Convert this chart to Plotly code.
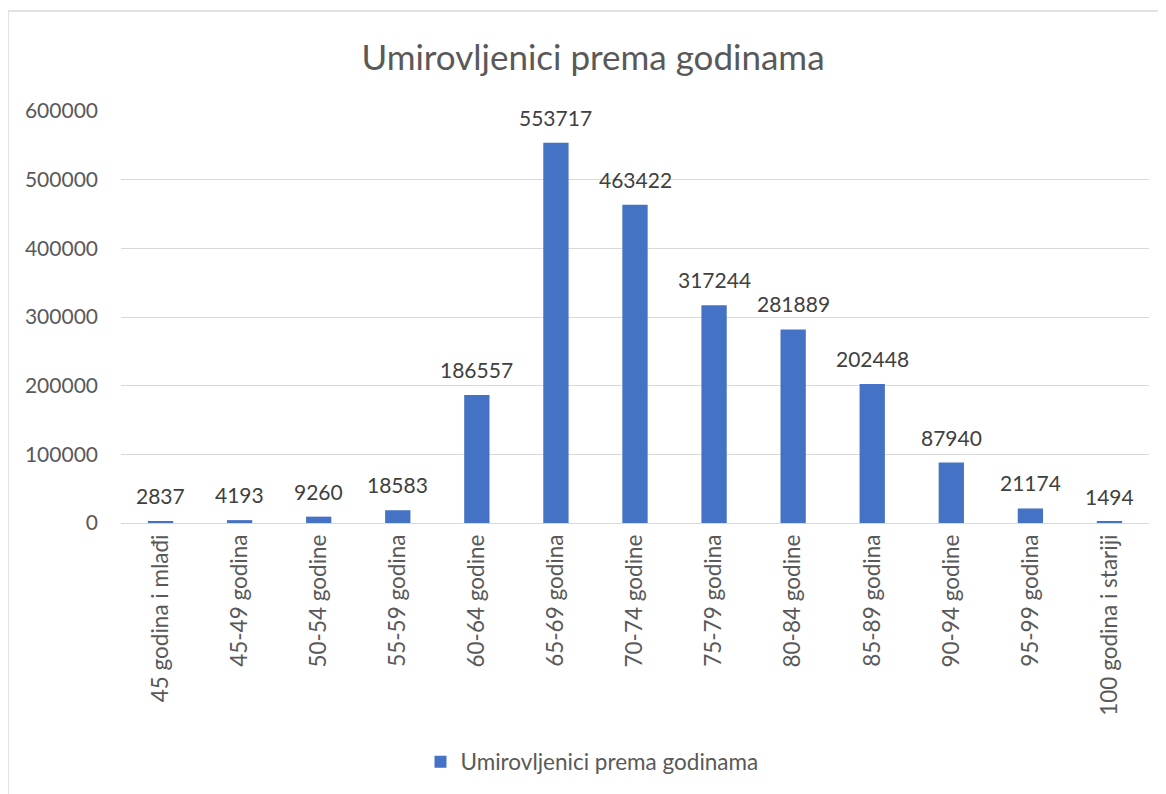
import plotly.graph_objects as go

categories = ["45 godina i mlađi", "45-49 godina", "50-54 godine", "55-59 godina",
              "60-64 godine", "65-69 godina", "70-74 godine", "75-79 godina",
              "80-84 godine", "85-89 godina", "90-94 godine", "95-99 godina",
              "100 godina i stariji"]
values = [2837, 4193, 9260, 18583, 186557, 553717, 463422, 317244, 281889,
          202448, 87940, 21174, 1494]
series_name = "Umirovljenici prema godinama"
y_ticks = [0, 100000, 200000, 300000, 400000, 500000, 600000]

FONT = "Lato"
GRAY = "#595959"
OFF = 8  # page body margin

fig = go.Figure(go.Bar(
    x=categories, y=values, name=series_name,
    marker=dict(color="#4472C4", line=dict(width=0)),
))

for c, v in zip(categories, values):
    fig.add_annotation(x=c, y=v, text=str(v), showarrow=False,
                       yanchor="bottom", yshift=11,
                       font=dict(family=FONT, size=21, color="#404040"))

W, H = 1166 - OFF, 794 - OFF
L, R, T, B = 121 - OFF, 1149 - OFF, 111 - OFF, 523 - OFF
fig.update_layout(
    width=W, height=H,
    margin=dict(l=L, r=W - R, t=T, b=H - B, autoexpand=False),
    paper_bgcolor="white", plot_bgcolor="white",
    bargap=0.68,
    font=dict(family=FONT, color=GRAY),
    title=dict(text=series_name, x=(593 - OFF) / W, xanchor="center",
               y=1 - (58 - OFF) / H, yanchor="middle", xref="container", yref="container",
               font=dict(family=FONT, size=35, color=GRAY)),
    showlegend=True,
    legend=dict(orientation="h", xref="container", yref="container",
                x=(592 - OFF) / W, xanchor="center", y=1 - (762 - OFF) / H, yanchor="middle",
                font=dict(family=FONT, size=22.5, color=GRAY)),
    xaxis=dict(tickangle=-90, tickfont=dict(family=FONT, size=22.5, color=GRAY),
               showgrid=False, showline=False, ticks="", ticklabelstandoff=6),
    yaxis=dict(range=[0, 600000], tickvals=y_ticks, ticktext=[str(v) for v in y_ticks],
               showgrid=True, gridcolor="#D9D9D9", gridwidth=1.3,
               zeroline=True, zerolinecolor="#D9D9D9", zerolinewidth=1.3,
               tickfont=dict(family=FONT, size=21, color=GRAY),
               ticks="", showline=False, ticklabelstandoff=22),
)

pw, ph = R - L, B - T
fig.add_shape(type="rect", xref="paper", yref="paper",
              x0=(8 - OFF - L) / pw, x1=(1180 - OFF - L) / pw,
              y0=(B - 820) / ph, y1=(B - (11 - OFF)) / ph,
              line=dict(color="#D9D9D9", width=1.5), fillcolor="rgba(0,0,0,0)",
              layer="below")

fig.write_html("out.html")
